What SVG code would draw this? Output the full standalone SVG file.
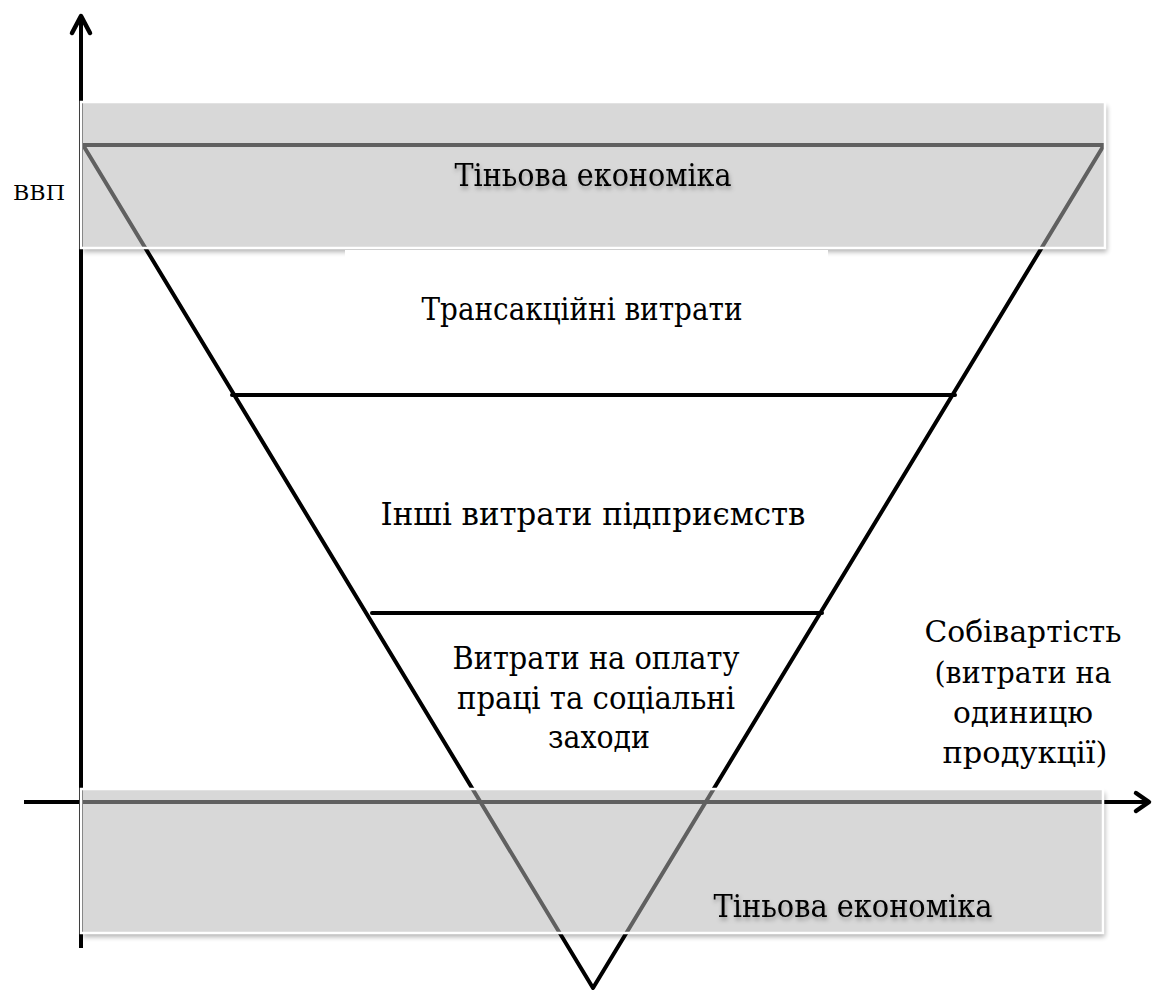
<svg xmlns="http://www.w3.org/2000/svg" width="1153" height="990" viewBox="0 0 1153 990">
  <defs>
    <filter id="outerShadow" x="-5%" y="-10%" width="110%" height="130%">
      <feGaussianBlur in="SourceAlpha" stdDeviation="2.5"/>
      <feOffset dx="2" dy="4" result="blurred"/>
      <feComposite in="blurred" in2="SourceAlpha" operator="out" result="outside"/>
      <feComponentTransfer in="outside">
        <feFuncA type="linear" slope="0.3"/>
      </feComponentTransfer>
    </filter>
    <filter id="textShadow" x="-5%" y="-30%" width="110%" height="170%">
      <feDropShadow dx="1" dy="3" stdDeviation="2" flood-color="#000" flood-opacity="0.3"/>
    </filter>
  </defs>
  <style>
    .lbl { fill: #000; text-anchor: middle; font-family: "DejaVu Serif", "Liberation Serif", serif; }
    .big { font-size: 31px; }
    .mid { font-size: 29px; }
    .axis { stroke: #000; stroke-width: 4; fill: none; stroke-linecap: butt; }
    .head { stroke: #000; stroke-width: 4.5; fill: none; stroke-linecap: round; stroke-linejoin: round; }
    .edge { stroke: #000; stroke-width: 4; fill: none; stroke-linecap: round; stroke-linejoin: round; }
    .band { fill: #b5b5b5; fill-opacity: 0.53; stroke: #ffffff; stroke-width: 2.5; }
  </style>

  <rect x="0" y="0" width="1153" height="990" fill="#ffffff"/>

  <g id="connectors">
    <line class="axis" x1="81" y1="17" x2="81" y2="948"/>
    <polyline class="head" points="72,33 81,16 90,33"/>
    <line class="axis" x1="24" y1="802" x2="1148" y2="802"/>
    <polyline class="head" points="1136,793 1149,802 1136,811"/>
    <polygon class="edge" points="83,145 1104,145 593,988"/>
    <line class="edge" x1="232" y1="395" x2="955" y2="395"/>
    <line class="edge" x1="372" y1="613" x2="822" y2="613"/>
  </g>

  <g id="shadow-top">
    <rect x="81" y="102" width="1024" height="146" fill="#000" filter="url(#outerShadow)"/>
    <rect class="band" x="81" y="102" width="1024" height="146"/>
    <text class="lbl big" x="593" y="186" textLength="277" lengthAdjust="spacingAndGlyphs" filter="url(#textShadow)">Тіньова економіка</text>
  </g>

  <g id="transaction-costs">
    <rect x="345" y="250" width="483" height="100" fill="#ffffff"/>
    <text class="lbl big" x="582" y="320" textLength="321" lengthAdjust="spacingAndGlyphs">Трансакційні витрати</text>
  </g>

  <g id="other-costs">
    <text class="lbl big" x="593" y="525" textLength="425" lengthAdjust="spacingAndGlyphs">Інші витрати підприємств</text>
  </g>

  <g id="labour-costs">
    <text class="lbl big" x="596" y="669" textLength="287" lengthAdjust="spacingAndGlyphs">Витрати на оплату</text>
    <text class="lbl big" x="596" y="709" textLength="278" lengthAdjust="spacingAndGlyphs">праці та соціальні</text>
    <text class="lbl big" x="599" y="748" textLength="102" lengthAdjust="spacingAndGlyphs">заходи</text>
  </g>

  <g id="cost-label">
    <text class="lbl mid" x="1023" y="642" textLength="197" lengthAdjust="spacingAndGlyphs">Собівартість</text>
    <text class="lbl mid" x="1023" y="683" textLength="177" lengthAdjust="spacingAndGlyphs">(витрати на</text>
    <text class="lbl mid" x="1023" y="723" textLength="140" lengthAdjust="spacingAndGlyphs">одиницю</text>
    <text class="lbl mid" x="1025" y="763" textLength="165" lengthAdjust="spacingAndGlyphs">продукції)</text>
  </g>

  <g id="gdp-label">
    <text class="lbl" x="39" y="200" font-size="20" textLength="52" lengthAdjust="spacingAndGlyphs">ВВП</text>
  </g>

  <g id="shadow-bottom">
    <rect x="81" y="789" width="1022" height="144" fill="#000" filter="url(#outerShadow)"/>
    <rect class="band" x="81" y="789" width="1022" height="144"/>
    <text class="lbl big" x="853" y="917" textLength="279" lengthAdjust="spacingAndGlyphs" filter="url(#textShadow)">Тіньова економіка</text>
  </g>
</svg>
